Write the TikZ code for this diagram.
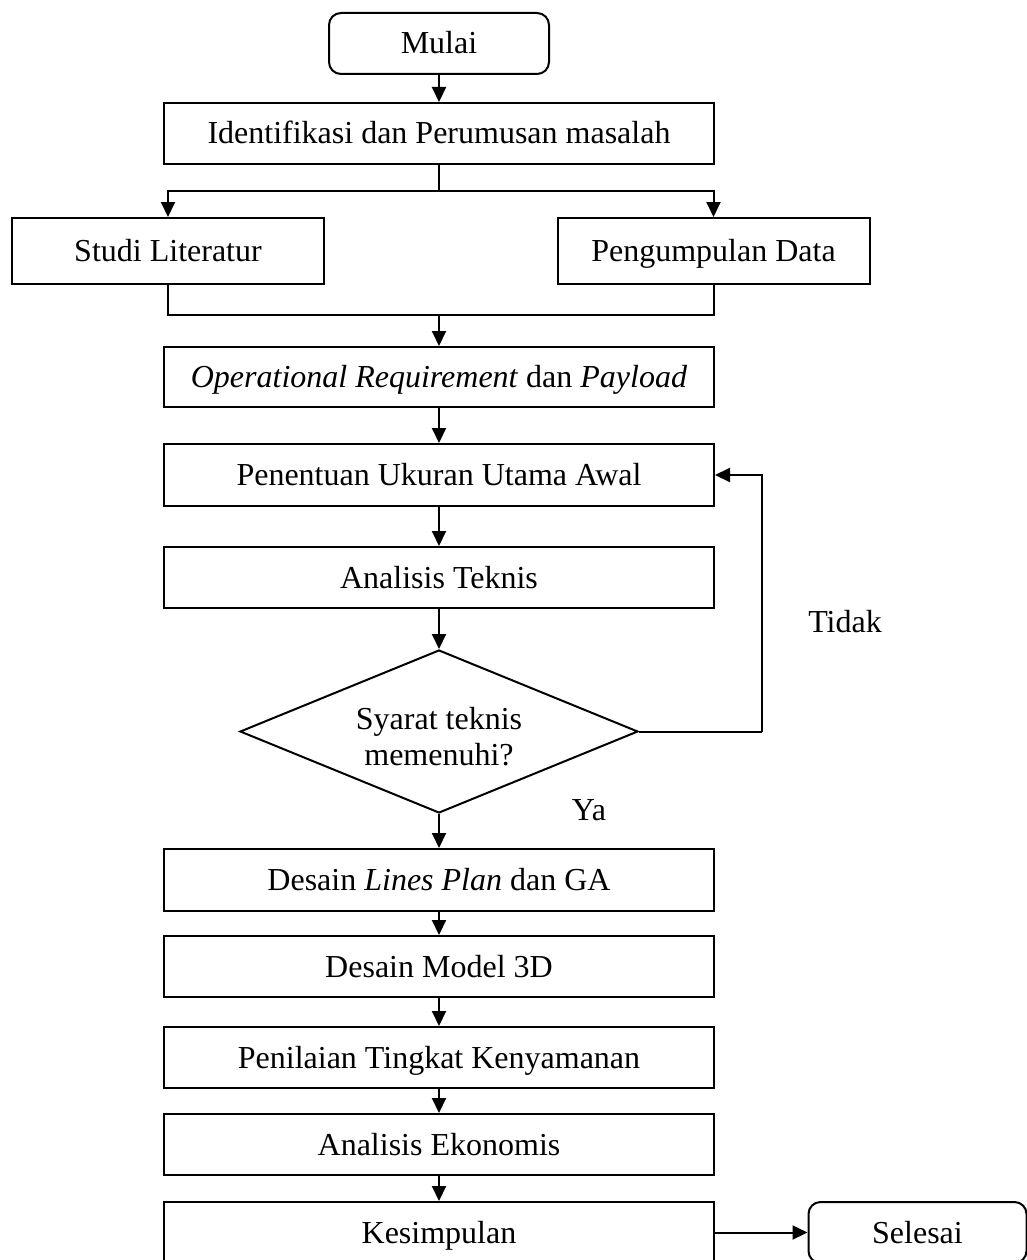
\documentclass[tikz,border=0pt]{standalone}
\usepackage{fontspec}
\setmainfont{Liberation Serif}
\usetikzlibrary{shapes.geometric,arrows.meta}
\begin{document}
\begin{tikzpicture}[x=1pt,y=-1pt,
  every node/.style={font=\fontsize{32}{36}\selectfont, inner sep=0pt},
  fixtext/.style={text height=26pt, text depth=5pt},
  procbox/.style={draw, line width=2pt, fixtext, minimum width=550pt, minimum height=61pt},
  termbox/.style={draw, line width=2pt, fixtext, rounded corners=12pt, minimum height=61pt},
  sidebox/.style={draw, line width=2pt, fixtext, minimum width=312pt, minimum height=66pt},
  decbox/.style={draw, line width=2pt, diamond, aspect=2.44, minimum width=398pt, minimum height=163pt},
  conn/.style={line width=2pt},
  arr/.style={line width=2pt, -{Triangle[length=15pt,width=14pt]}},
  lbl/.style={fixtext}]
\useasboundingbox (0,0) rectangle (1027,1260);
\node[termbox, minimum width=220pt] (mulai) at (439,43.5) {Mulai};
\node[procbox] (ident) at (439,133.5) {Identifikasi dan Perumusan masalah};
\node[sidebox] (studi) at (168,251) {Studi Literatur};
\node[sidebox] (data) at (713.5,251) {Pengumpulan Data};
\node[procbox, minimum height=60pt] (oper) at (439,377) {\textit{Operational Requirement} dan \textit{Payload}};
\node[procbox, minimum height=62pt] (tentu) at (439,475) {Penentuan Ukuran Utama Awal};
\node[procbox] (analis) at (439,577.5) {Analisis Teknis};
\node[decbox] (dec) at (439,731.5) {\raisebox{-9pt}[\height][\depth]{\begin{tabular}{@{}c@{}}Syarat teknis\\memenuhi?\end{tabular}}};
\node[procbox, minimum height=62pt] (lines) at (439,880) {Desain \textit{Lines Plan} dan GA};
\node[procbox] (model) at (439,966.5) {Desain Model 3D};
\node[procbox] (nilai) at (439,1057.5) {Penilaian Tingkat Kenyamanan};
\node[procbox] (eko) at (439,1144.5) {Analisis Ekonomis};
\node[procbox] (kes) at (439,1232.5) {Kesimpulan};
\node[termbox, minimum width=218pt] (selesai) at (917.5,1232.5) {Selesai};
\node[lbl] (tidak) at (845,622) {Tidak};
\node[lbl] (ya) at (589,810) {Ya};
\coordinate (j1) at (439,191);
\coordinate (j2) at (439,315);
\coordinate (lp) at (762,731.5);
\draw[arr] (mulai) -- (ident);
\draw[conn] (ident) -- (j1);
\draw[arr] (j1) -| (studi);
\draw[arr] (j1) -| (data);
\draw[conn] (studi) |- (j2);
\draw[conn] (data) |- (j2);
\draw[arr] (j2) -- (oper);
\draw[arr] (oper) -- (tentu);
\draw[arr] (tentu) -- (analis);
\draw[arr] (analis) -- (dec);
\draw[conn] (dec.east) -- (lp);
\draw[arr] (lp) |- (tentu.east);
\draw[arr] (dec) -- (lines);
\draw[arr] (lines) -- (model);
\draw[arr] (model) -- (nilai);
\draw[arr] (nilai) -- (eko);
\draw[arr] (eko) -- (kes);
\draw[arr] (kes) -- (selesai);
\end{tikzpicture}
\end{document}
